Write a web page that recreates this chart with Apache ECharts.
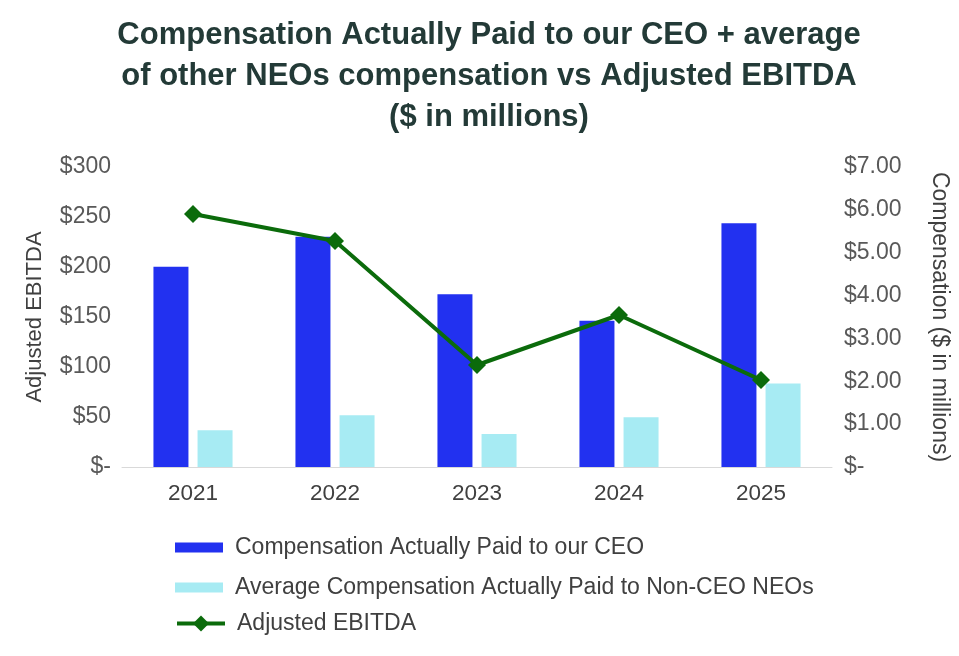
<!DOCTYPE html>
<html>
<head>
<meta charset="utf-8">
<script src="https://cdn.jsdelivr.net/npm/echarts@6/dist/echarts.min.js"></script>
<style>
html,body{margin:0;padding:0;background:#fff;}
#c{width:959px;height:656px;}
</style>
</head>
<body>
<div id="c"></div>
<script>
var titleText = 'Compensation Actually Paid to our CEO + average\nof other NEOs compensation vs Adjusted EBITDA\n($ in millions)';
var years = ['2021', '2022', '2023', '2024', '2025'];
var ceoCAP = [4.67, 5.37, 4.03, 3.41, 5.69];
var neoCAP = [0.86, 1.21, 0.77, 1.16, 1.95];
var ebitda = [253, 226, 102, 152, 87];
var leftTicks = {min: 0, max: 300, interval: 50};
var rightTicks = {min: 0, max: 7, interval: 1};
var names = ['Compensation Actually Paid to our CEO', 'Average Compensation Actually Paid to Non-CEO NEOs', 'Adjusted EBITDA'];

var font = 'Liberation Sans';
var legendText = {fontFamily: font, fontSize: 23, color: '#404040', padding: [0, 0, 0, 7]};
var chart = echarts.init(document.getElementById('c'), null, {renderer: 'canvas'});
chart.setOption({
  backgroundColor: '#ffffff',
  animation: false,
  title: {
    text: titleText,
    left: 484, top: 10, textAlign: 'center',
    textStyle: {fontFamily: font, fontSize: 31, fontWeight: 'bold', color: '#233a37', lineHeight: 41}
  },
  grid: {left: 122, right: 111, top: 167, bottom: 189, containLabel: false},
  legend: [
    {
      orient: 'vertical', left: 170, top: 531,
      itemWidth: 48, itemHeight: 10, itemGap: 17,
      icon: 'rect',
      textStyle: legendText,
      data: [names[0], names[1]]
    },
    {
      orient: 'vertical', left: 170, top: 607,
      itemWidth: 48, itemHeight: 20, itemGap: 16,
      textStyle: legendText,
      lineStyle: {width: 4, color: '#0b6b0b'},
      data: [names[2]]
    }
  ],
  xAxis: {
    type: 'category', data: years,
    axisLine: {show: true, lineStyle: {color: '#d9d9d9', width: 1}},
    axisTick: {show: false},
    axisLabel: {fontFamily: font, fontSize: 22.5, color: '#404040', margin: 15}
  },
  yAxis: [
    {
      type: 'value', min: leftTicks.min, max: leftTicks.max, interval: leftTicks.interval,
      name: 'Adjusted EBITDA', nameLocation: 'middle', nameGap: 76, nameRotate: 90,
      nameTextStyle: {fontFamily: font, fontSize: 22, color: '#404040'},
      axisLine: {show: false}, axisTick: {show: false}, splitLine: {show: false},
      axisLabel: {fontFamily: font, fontSize: 23, color: '#595959', margin: 11,
        formatter: function(v){ return v === 0 ? '$-' : '$' + v; }}
    },
    {
      type: 'value', min: rightTicks.min, max: rightTicks.max, interval: rightTicks.interval,
      name: 'Compensation ($ in millions)', nameLocation: 'middle', nameGap: 96, nameRotate: -90,
      nameTextStyle: {fontFamily: font, fontSize: 23, color: '#404040'},
      axisLine: {show: false}, axisTick: {show: false}, splitLine: {show: false},
      axisLabel: {fontFamily: font, fontSize: 23, color: '#595959', margin: 12,
        formatter: function(v){ return v === 0 ? '$-' : '$' + v.toFixed(2); }}
    }
  ],
  series: [
    {
      name: names[0], type: 'bar', yAxisIndex: 1, data: ceoCAP,
      barWidth: 35, barGap: '26%',
      itemStyle: {color: '#2231f0'}
    },
    {
      name: names[1], type: 'bar', yAxisIndex: 1, data: neoCAP,
      barWidth: 35,
      itemStyle: {color: '#a7ebf3'}
    },
    {
      name: names[2], type: 'line', yAxisIndex: 0, data: ebitda,
      symbol: 'diamond', symbolSize: 18,
      lineStyle: {color: '#0b6b0b', width: 4},
      itemStyle: {color: '#0b6b0b'}
    }
  ]
});
</script>
</body>
</html>
